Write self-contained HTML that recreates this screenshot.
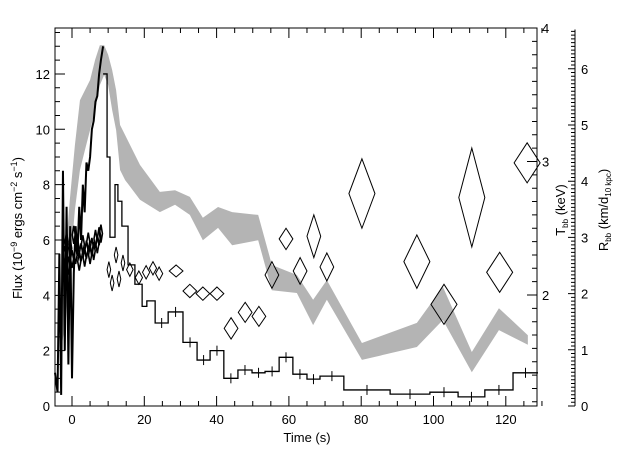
<!DOCTYPE html>
<html><head><meta charset="utf-8"><style>
html,body{margin:0;padding:0;background:#fff;}
svg{display:block;font-family:"Liberation Sans",sans-serif;}
</style></head><body>
<svg id="chart" width="640" height="457" viewBox="0 0 640 457"></svg>
<script>
// ---- data ----
const fluxEarlyT = [-4.7,-4,-3.5,-3,-2.5,-2,-1.5,-1,-0.5,0,0.5,1,1.5,2,2.5,3,3.5,4,4.5,5,5.5,6,6.5,7,7.5,8,8.6];
const fluxEarlyV = [1.2,0.5,5.5,0.4,8.5,2.0,7.2,1.5,6.5,1.0,4.8,6.5,5.5,7.2,6.0,8.0,7.0,8.8,8.5,9.0,10.0,10.3,11.0,11.2,12.0,12.5,13.0];
const binEdges = [8.6,9.7,10.5,11.9,12.7,13.8,15.5,17.4,19.4,20.7,23.0,26.6,30.7,34.6,38.2,42.0,45.9,49.8,53.4,57.3,61.1,65.0,68.6,75.2,88.0,99.0,106.8,114.2,122.0,128.9];
const binFlux = [12.0,9.0,6.1,8.0,7.4,6.5,5.1,4.4,3.6,3.8,3.0,3.4,2.3,1.66,2.0,1.0,1.3,1.2,1.25,1.76,1.15,0.97,1.08,0.58,0.43,0.5,0.33,0.58,1.2];
const bandT = [-2.8,-1.7,-0.6,0.8,2.2,3.6,5.0,6.4,7.7,8.9,10.0,11.1,12.2,13.3,14.7,18.8,24.3,28.5,32.6,36.2,40.4,44.3,51.5,55.3,62.2,66.7,70.5,80.2,95.4,102.6,110.6,118.1,126.1];
const bandRhi = [2.24,2.78,3.67,4.64,5.44,5.62,5.80,6.16,6.42,6.42,6.25,5.98,5.62,5.00,4.82,4.29,3.81,3.84,3.72,3.35,3.54,3.45,3.40,2.51,2.33,1.89,2.24,1.12,1.48,2.12,0.96,1.74,1.26];
const bandRlo = [1.09,1.53,2.42,3.49,4.20,4.56,4.91,5.27,5.71,5.89,5.71,5.27,4.91,4.20,4.02,3.67,3.45,3.58,3.40,2.95,3.17,2.86,2.95,2.06,2.01,1.44,1.89,0.82,1.05,1.53,0.60,1.35,1.09];
const clusterT = [-2,-1.5,-1,-0.5,0,0.5,1,1.5,2,2.5,3,3.5,4,4.5,5,5.5,6,6.5,7,7.5,8];
const clusterKT = [2.30,2.40,2.22,2.35,2.27,2.45,2.30,2.36,2.25,2.32,2.38,2.28,2.34,2.40,2.30,2.36,2.33,2.42,2.38,2.44,2.46];
const diaT = [10.2,11.1,12.2,13.0,14.1,16.0,18.5,20.5,22.4,24.1,28.8,32.6,36.2,40.1,44.0,47.9,51.7,55.3,59.2,63.1,66.9,70.5,80.2,95.4,102.9,110.6,118.3,125.9];
const diaKT = [2.19,2.09,2.30,2.12,2.24,2.19,2.13,2.17,2.20,2.16,2.18,2.03,2.01,2.01,1.75,1.87,1.84,2.15,2.42,2.18,2.44,2.21,2.76,2.25,1.93,2.73,2.17,2.99];
const diaDt = [0.5,0.5,0.5,0.5,0.5,0.9,1.0,1.0,1.0,1.0,1.9,1.9,1.9,1.9,1.9,1.9,1.9,1.9,1.9,1.9,1.9,1.9,3.6,3.6,3.6,3.6,3.6,3.6];
const diaDkT = [0.06,0.06,0.06,0.06,0.06,0.05,0.05,0.05,0.05,0.05,0.045,0.05,0.05,0.05,0.08,0.075,0.075,0.1,0.08,0.1,0.16,0.105,0.26,0.2,0.15,0.37,0.15,0.15];
const xTicks = [0,20,40,60,80,100,120];
const yTicks = [0,2,4,6,8,10,12];
const tTicks = [2,3,4];
const rTicks = [0,1,2,3,4,5,6];

// ---- axes ----
const L=55,R=537,T=28,B=406;
const xs=t=>72+t*3.615;
const ys=f=>406-f*27.67;
const yT=k=>28+(4-k)*133.5;
const yR=r=>406-r*56.2;
const svg=document.getElementById('chart');
const NS='http://www.w3.org/2000/svg';
function mk(tag,attrs,parent){const e=document.createElementNS(NS,tag);for(const k in attrs)e.setAttribute(k,attrs[k]);(parent||svg).appendChild(e);return e;}

// band
let pts=[];
for(let i=0;i<bandT.length;i++)pts.push(xs(bandT[i])+','+yR(bandRhi[i]));
for(let i=bandT.length-1;i>=0;i--)pts.push(xs(bandT[i])+','+yR(bandRlo[i]));
const band=mk('polygon',{points:pts.join(' '),fill:'#b4b4b4',stroke:'none'});



// early flux
let d='M'+xs(fluxEarlyT[0])+','+ys(fluxEarlyV[0]);
for(let i=1;i<fluxEarlyT.length;i++)d+=' L'+xs(fluxEarlyT[i])+','+ys(fluxEarlyV[i]);
const ef=mk('path',{d:d,fill:'none',stroke:'#000','stroke-width':2});



// histogram
let h='M'+xs(binEdges[0])+','+ys(binFlux[0]);
for(let i=0;i<binFlux.length;i++){h+=' L'+xs(binEdges[i])+','+ys(binFlux[i])+' L'+xs(binEdges[i+1])+','+ys(binFlux[i]);}
const hist=mk('path',{d:h,fill:'none',stroke:'#000','stroke-width':1.3});


for(let i=10;i<binFlux.length;i++){
  const xm=xs((binEdges[i]+binEdges[i+1])/2),y=ys(binFlux[i]);
  const eb=mk('line',{x1:xm,x2:xm,y1:y-5,y2:y+5,stroke:'#000','stroke-width':1});
  
  
}

// cluster
for(let i=0;i<clusterT.length;i++){
  const x=xs(clusterT[i]),y=yT(clusterKT[i]);
  const c=mk('polygon',{points:`${x},${y-9} ${x+1.5},${y} ${x},${y+9} ${x-1.5},${y}`,fill:'none',stroke:'#000','stroke-width':1.6});
  
  
}
// diamonds
for(let i=0;i<diaT.length;i++){
  const x=xs(diaT[i]),y=yT(diaKT[i]),w=diaDt[i]*3.615,hh=diaDkT[i]*133.5;
  const dm=mk('polygon',{points:`${x},${y-hh} ${x+w},${y} ${x},${y+hh} ${x-w},${y}`,fill:'none',stroke:'#000','stroke-width':1});
  
  
}

// frame
const fr=mk('path',{d:`M${L},${T} H${R} V${B} H${L} Z`,fill:'none',stroke:'#000','stroke-width':1});


let tk='';
for(let t=-0;t<=130;t+=5){const x=xs(t);const len=(t%20==0)?10:5;tk+=`M${x},${B} v${-len} M${x},${T} v${len} `;}
for(let f=0;f<=13.5;f+=0.5){const y=ys(f);const len=(Math.abs(f%2)<1e-6)?10:5;tk+=`M${L},${y} h${len} `;}
for(let k=1.2;k<=4.001;k+=0.1){const y=yT(k);const maj=Math.abs(k-Math.round(k))<1e-6;tk+=`M${R},${y} h${maj?-10:-5} `;}
const ticks=mk('path',{d:tk,stroke:'#000','stroke-width':1,fill:'none'});


// R axis
let rt=`M575,${yR(0)} V${yR(6.7)} `;
for(let r=0;r<=6.7;r+=1/15){const y=yR(r);const maj=Math.abs(r-Math.round(r))<0.01;rt+=`M575,${y} h${maj?-7:-4} `;}
const raxis=mk('path',{d:rt,stroke:'#000','stroke-width':1,fill:'none'});



function txt(s,x,y,anchor,name,extra){const e=mk('text',Object.assign({x:x,y:y,'text-anchor':anchor,'font-size':13,fill:'#000'},extra||{}));e.textContent=s;return e;}
xTicks.forEach(t=>txt(String(t),xs(t),424,'middle','x-tick-label'));
yTicks.forEach(f=>txt(String(f),50,ys(f)+5,'end','y-tick-label'));
tTicks.forEach(k=>txt(String(k),542,yT(k)+5,'start','t-tick-label'));
rTicks.forEach(r=>txt(String(r),581,yR(r)+5,'start','r-tick-label'));
txt('Time (s)',307,442,'middle','x-axis-title');

const yl=mk('text',{x:0,y:0,'font-size':13,'text-anchor':'middle',transform:'translate(22,228) rotate(-90)'});

yl.innerHTML='Flux (10<tspan dy="-5" font-size="9">−9</tspan><tspan dy="5"> ergs cm</tspan><tspan dy="-5" font-size="9">−2</tspan><tspan dy="5"> s</tspan><tspan dy="-5" font-size="9">−1</tspan><tspan dy="5">)</tspan>';
const tl=mk('text',{x:0,y:0,'font-size':13,'text-anchor':'middle',transform:'translate(565,210) rotate(-90)'});

tl.innerHTML='T<tspan dy="3" font-size="8">bb</tspan><tspan dy="-3"> (keV)</tspan>';
const rl=mk('text',{x:0,y:0,'font-size':13,'text-anchor':'middle',transform:'translate(608,210) rotate(-90)'});

rl.innerHTML='R<tspan dy="3" font-size="8">bb</tspan><tspan dy="-3"> (km/d</tspan><tspan dy="3" font-size="8">10 kpc</tspan><tspan dy="-3">)</tspan>';
</script>
</body></html>
